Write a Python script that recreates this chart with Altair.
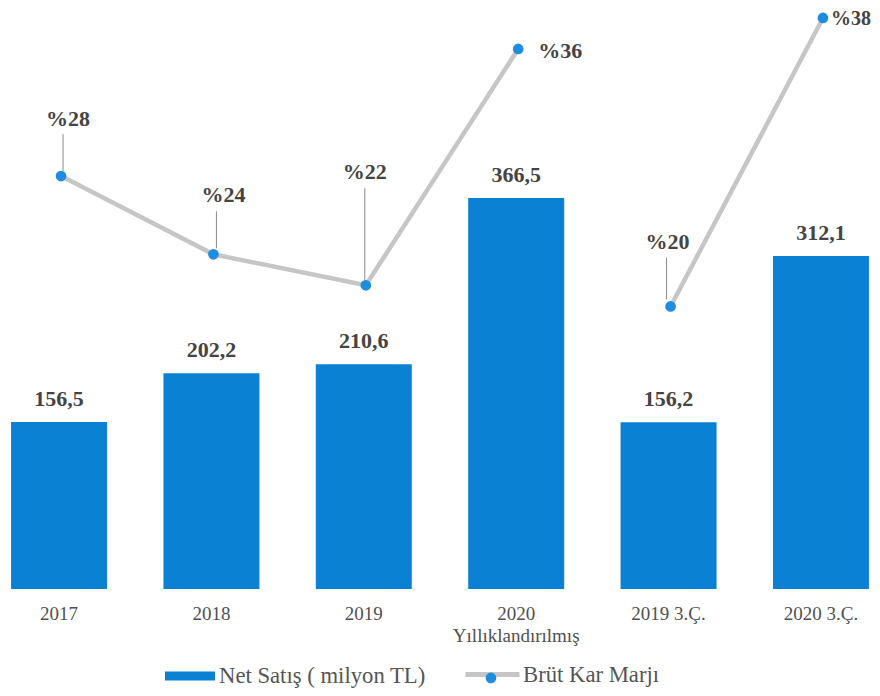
import altair as alt
import pandas as pd

# ---- data ----
categories = ["2017", "2018", "2019", "2020\nYıllıklandırılmış", "2019 3.Ç.", "2020 3.Ç."]
net_sales = [156.5, 202.2, 210.6, 366.5, 156.2, 312.1]
net_sales_labels = ["156,5", "202,2", "210,6", "366,5", "156,2", "312,1"]
gross_margin = [28.4, 23.6, 21.7, 36.2, 20.4, 38.1]
gross_margin_labels = ["%28", "%24", "%22", "%36", "%20", "%38"]
line_segment = ["Yıllık", "Yıllık", "Yıllık", "Yıllık", "3.Ç.", "3.Ç."]

bar_series = "Net Satış ( milyon TL)"
line_series = "Brüt Kar Marjı"
point_series = "Brüt Kar Marjı (nokta)"

df = pd.DataFrame({
    "idx": list(range(len(categories))),
    "cat": categories,
    "sales": net_sales,
    "sales_label": net_sales_labels,
    "margin": gross_margin,
    "margin_label": gross_margin_labels,
    "seg": line_segment,
    "bs": [bar_series] * len(categories),
    "ls": [line_series] * len(categories),
    "ps": [point_series] * len(categories),
})

# ---- styles ----
BAR_BLUE = "#0b81d3"
DOT_BLUE = "#1e8de0"
LINE_GRAY = "#c6c6c6"
TEXT_DARK = "#444444"
TEXT_GRAY = "#505050"
SERIF = "Liberation Serif"
LEGEND_FS = 22.7

# label placement (dx, dy, fontSize) relative to each point -- styling, not data
label_offsets = {0: (9, -50, 22), 1: (12, -52, 22), 2: (1, -106, 22), 3: (44, 9, 22),
                 4: (-1, -57, 22), 5: (30, 7, 20)}
# leader lines: (xOffset, start yOffset, end yOffset)
leader_offsets = {0: (4, -42, -5), 1: (5, -43, -6), 2: (1, -97, -4), 4: (-2, -49, -7)}

x_enc = alt.X(
    "cat:N",
    sort=categories,
    scale=alt.Scale(paddingInner=0.37, paddingOuter=0.02),
    axis=alt.Axis(
        title=None, domain=False, ticks=False, grid=False,
        labelAngle=0, labelFont=SERIF, labelFontSize=19, labelColor=TEXT_GRAY,
        labelPadding=15, labelBaseline="top", labelLineHeight=22,
        labelExpr="split(datum.label, '\\n')",
    ),
)
y_sales = alt.Y("sales:Q", scale=alt.Scale(domain=[0, 544.5], nice=False, zero=True), axis=None)
y_margin = alt.Y("margin:Q", scale=alt.Scale(domain=[3.07, 38.71], nice=False, zero=False), axis=None)
y2_margin = alt.Y2("margin:Q")

base = alt.Chart(df)

legend_common = dict(
    orient="none", title=None, labelFont=SERIF, labelFontSize=LEGEND_FS,
    labelColor="#555555", padding=0, labelLimit=400,
)

bars = base.mark_bar().encode(
    x=x_enc,
    y=y_sales,
    color=alt.Color(
        "bs:N",
        scale=alt.Scale(domain=[bar_series], range=[BAR_BLUE]),
        legend=alt.Legend(
            legendX=157, legendY=643,
            symbolType="M-1,-0.18 L1,-0.18 L1,0.18 L-1,0.18 Z",
            symbolSize=2500, symbolStrokeWidth=0, labelOffset=4,
            **legend_common,
        ),
    ),
)

bar_text = base.mark_text(
    font=SERIF, fontSize=22, fontWeight="bold", color=TEXT_DARK,
    baseline="alphabetic", dy=-16,
).encode(x=x_enc, y=y_sales, text="sales_label:N")

line = base.mark_line(strokeWidth=4.5, strokeCap="round", xOffset=2).encode(
    x=x_enc,
    y=y_margin,
    detail="seg:N",
    stroke=alt.Stroke(
        "ls:N",
        scale=alt.Scale(domain=[line_series], range=[LINE_GRAY]),
        legend=alt.Legend(
            legendX=455, legendY=637,
            symbolType="stroke", symbolStrokeWidth=5, symbolSize=2916,
            labelOffset=1,
            **legend_common,
        ),
    ),
)

leaders = []
for i, (xo, ys, ye) in leader_offsets.items():
    leaders.append(
        base.transform_filter(alt.datum.idx == i)
        .mark_rule(color="#8a8a8a", strokeWidth=1, xOffset=xo, yOffset=ys, y2Offset=ye)
        .encode(x=x_enc, y=y_margin, y2=y2_margin)
    )

points = base.mark_circle(size=115, opacity=1, xOffset=2).encode(
    x=x_enc,
    y=y_margin,
    fill=alt.Fill(
        "ps:N",
        scale=alt.Scale(domain=[point_series], range=[DOT_BLUE]),
        legend=alt.Legend(
            legendX=471.6, legendY=658.6,
            symbolType="circle", symbolSize=115, symbolStrokeWidth=0,
            labelExpr="''", symbolOpacity=1,
            **legend_common,
        ),
    ),
)

margin_texts = []
for i, (dx, dy, fs) in label_offsets.items():
    margin_texts.append(
        base.transform_filter(alt.datum.idx == i)
        .mark_text(font=SERIF, fontSize=fs, fontWeight="bold", color=TEXT_DARK,
                   baseline="alphabetic", align="center", dx=dx, dy=dy)
        .encode(x=x_enc, y=y_margin, text="margin_label:N")
    )

chart = (
    alt.layer(bars, bar_text, line, *leaders, points, *margin_texts)
    .resolve_scale(y="independent")
    .properties(
        width=864, height=581,
        autosize=alt.AutoSizeParams(type="none"),
        padding={"left": 0, "top": 0, "right": 0, "bottom": 99},
        background="white",
    )
    .configure_view(stroke=None)
    .configure_legend(labelFont=SERIF, labelFontSize=LEGEND_FS, labelColor="#555555")
)

chart.save("out.html", embed_options={"renderer": "svg", "actions": False})
